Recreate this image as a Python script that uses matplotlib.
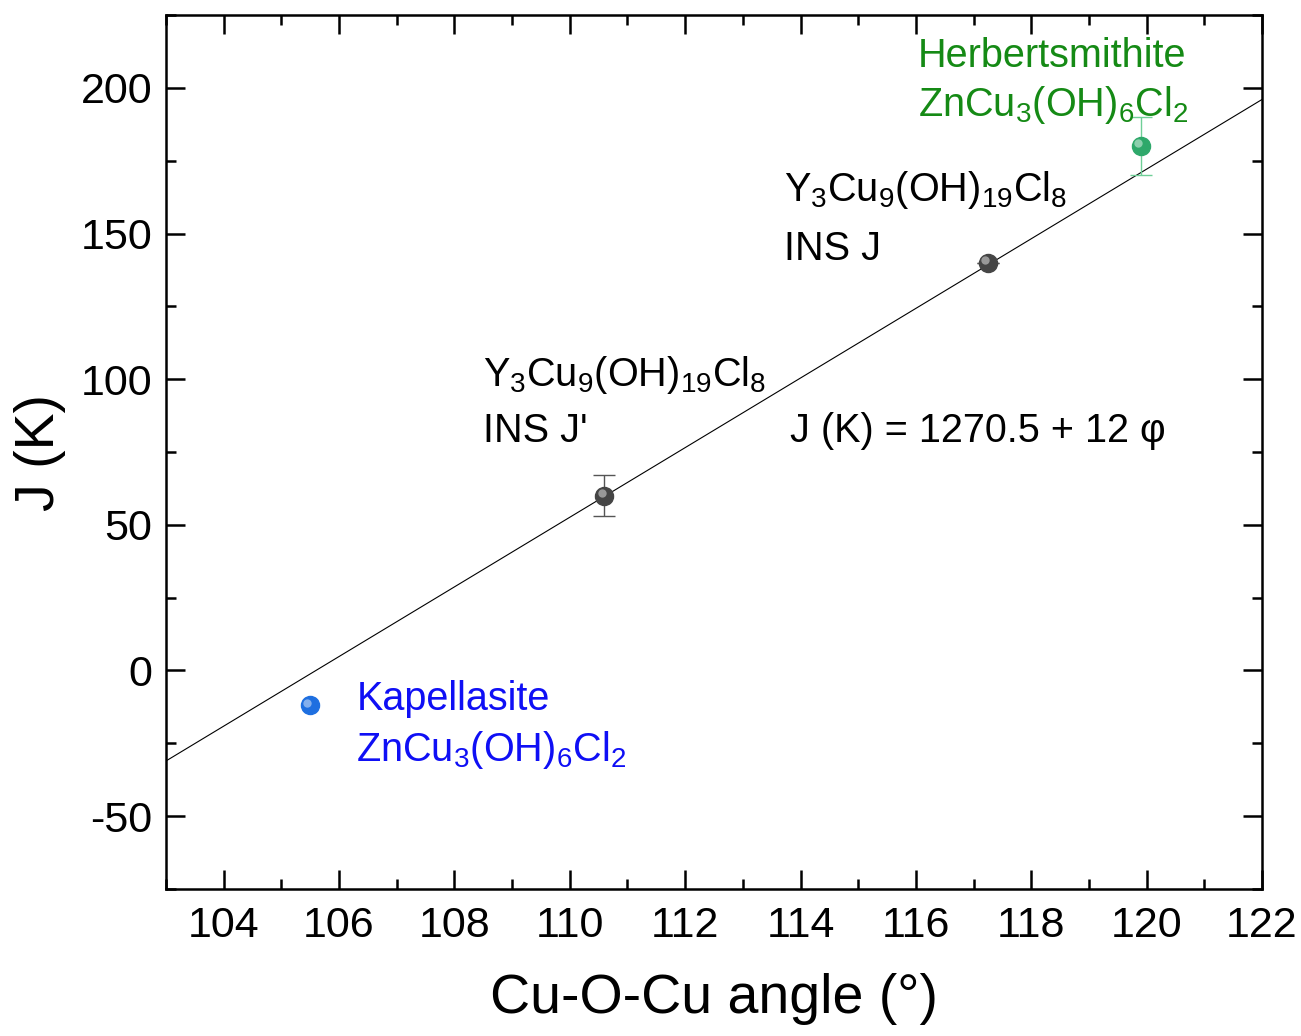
import numpy as np
import matplotlib
matplotlib.use('Agg')
import matplotlib.pyplot as plt
import matplotlib.transforms as mtransforms
from matplotlib.ticker import MultipleLocator

# 字体设置
plt.rcParams['font.family'] = ['Liberation Sans', 'DejaVu Sans']
plt.rcParams['mathtext.fontset'] = 'custom'
plt.rcParams['mathtext.rm'] = 'Liberation Sans'
plt.rcParams['mathtext.it'] = 'Liberation Sans:italic'
plt.rcParams['axes.unicode_minus'] = False

# 数据
angle_kap = [105.5]
j_kap = [-12]
angle_y = [110.6, 117.25]
j_y = [60, 140]
err_y = [7, 0]
angle_herb = [119.9]
j_herb = [180]
err_herb = [10]

# 线性拟合参数
fit_slope = 11.95
fit_intercept = -1261.9

fig = plt.figure(figsize=(13.01, 10.36), dpi=100)
ax = fig.add_axes([0.1276, 0.1419, 0.8424, 0.8436])

xs = np.array([103, 122])
ax.plot(xs, fit_intercept + fit_slope * xs, color='black', lw=0.8, zorder=2)


def ball(x, y, color, yerr=None, ecolor=None):
    if yerr is not None:
        ax.errorbar(x, y, yerr=yerr, fmt='none', ecolor=ecolor, elinewidth=1.0,
                    capsize=8, capthick=1.0, zorder=3)
    ax.plot(x, y, 'o', ms=13, color=color, mec=color, zorder=4)
    # 高光
    off = mtransforms.ScaledTranslation(-2 / 72, 2 / 72, fig.dpi_scale_trans)
    ax.plot(x, y, 'o', ms=6, color='white', mec='none', alpha=0.45,
            transform=ax.transData + off, zorder=5)


ball(angle_kap, j_kap, '#1e6fe0')
ball(angle_y, j_y, '#454545', yerr=err_y, ecolor='#555555')
ball(angle_herb, j_herb, '#2ea86a', yerr=err_herb, ecolor='#6fcf97')

fs = 28.5
green = '#158a15'
blue = '#0f0ff5'
ax.text(116.04, 207, 'Herbertsmithite', color=green, fontsize=fs)
ax.text(116.04, 190.5, r'ZnCu$_3$(OH)$_6$Cl$_2$', color=green, fontsize=fs)
ax.text(113.72, 161, r'Y$_3$Cu$_9$(OH)$_{19}$Cl$_8$', color='black', fontsize=fs)
ax.text(113.72, 141, 'INS J', color='black', fontsize=fs)
ax.text(108.5, 97.5, r'Y$_3$Cu$_9$(OH)$_{19}$Cl$_8$', color='black', fontsize=fs)
ax.text(108.5, 78.5, "INS J'", color='black', fontsize=fs)
ax.text(113.82, 78.5, 'J (K) = 1270.5 + 12 φ', color='black', fontsize=fs)
ax.text(106.3, -13.5, 'Kapellasite', color=blue, fontsize=fs)
ax.text(106.3, -31, r'ZnCu$_3$(OH)$_6$Cl$_2$', color=blue, fontsize=fs)

ax.set_xlim(103, 122)
ax.set_ylim(-75, 225)
ax.xaxis.set_major_locator(MultipleLocator(2))
ax.xaxis.set_minor_locator(MultipleLocator(1))
ax.yaxis.set_major_locator(MultipleLocator(50))
ax.yaxis.set_minor_locator(MultipleLocator(25))
ax.tick_params(which='both', direction='in', top=True, right=True,
               labeltop=False, labelright=False, width=1.8)
ax.tick_params(which='major', length=14, labelsize=31, pad=12)
ax.tick_params(axis='y', which='major', pad=10)
ax.tick_params(which='minor', length=7)
for s in ax.spines.values():
    s.set_linewidth(1.8)

ax.set_xlabel('Cu-O-Cu angle (°)', fontsize=40, labelpad=20)
ax.set_ylabel('J (K)', fontsize=40, labelpad=10)

fig.savefig('out.png', dpi=100)
